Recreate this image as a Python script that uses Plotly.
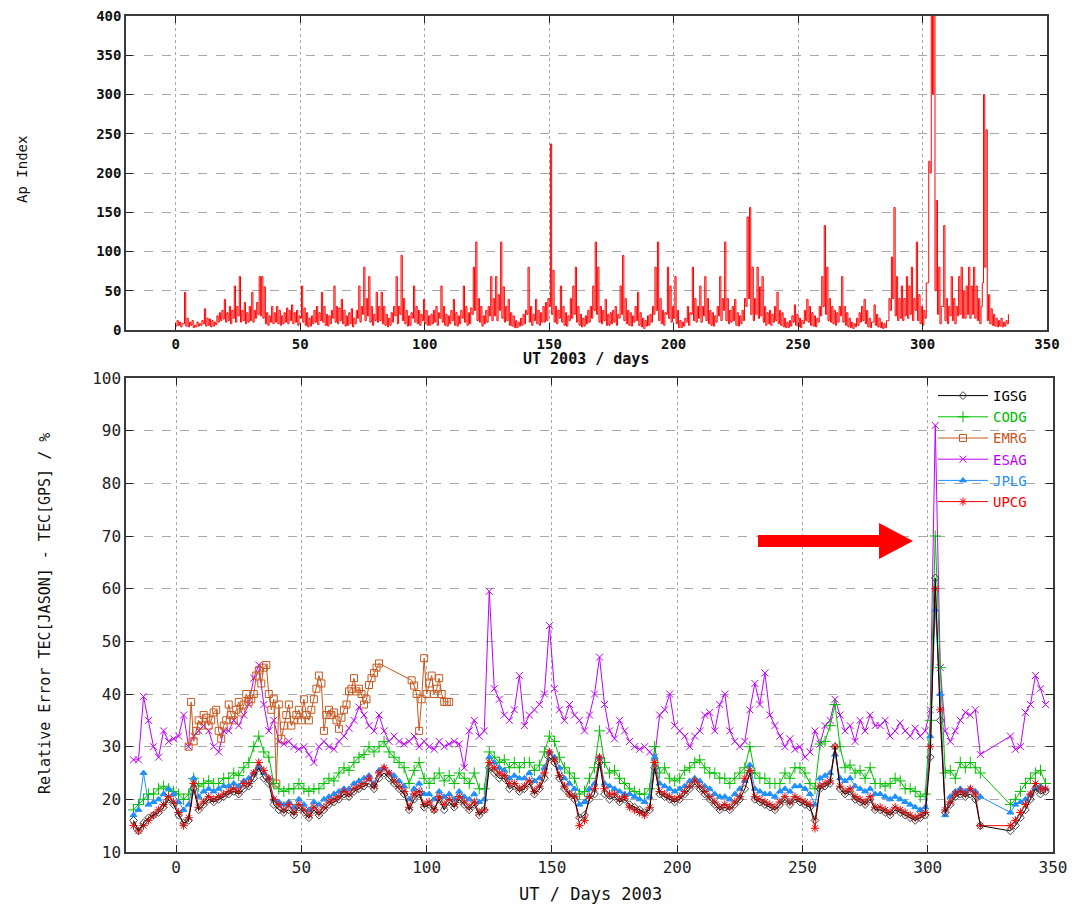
import numpy as np
import plotly.graph_objects as go

W, H = 1077, 905
OFF = 8                      # the page body keeps its default 8px margin
FW, FH = W - OFF, H - OFF

# ---- top panel: Ap index, daily max / min (days 0..334)
ap_hi = [
    12, 10, 8, 48, 15, 10, 12, 6, 10, 8,
    12, 27, 15, 14, 12, 10, 18, 22, 25, 39,
    22, 30, 25, 56, 30, 68, 25, 35, 22, 30,
    48, 25, 35, 68, 68, 55, 22, 18, 30, 22,
    30, 25, 18, 22, 28, 25, 32, 22, 25, 18,
    56, 28, 22, 15, 18, 25, 30, 22, 48, 30,
    20, 18, 25, 56, 30, 28, 39, 25, 18, 22,
    27, 15, 25, 56, 30, 80, 40, 68, 30, 20,
    48, 30, 48, 30, 20, 15, 22, 30, 68, 30,
    95, 40, 25, 18, 22, 56, 30, 25, 20, 39,
    25, 18, 20, 25, 30, 22, 56, 30, 20, 18,
    25, 39, 22, 18, 25, 56, 30, 22, 28, 80,
    112, 40, 30, 18, 25, 30, 68, 40, 68, 45,
    112, 55, 30, 39, 22, 18, 12, 10, 15, 20,
    25, 80, 30, 20, 39, 25, 22, 30, 35, 40,
    237, 76, 30, 25, 56, 30, 22, 18, 40, 56,
    80, 30, 20, 15, 18, 25, 30, 56, 112, 80,
    30, 25, 39, 20, 22, 25, 30, 20, 56, 95,
    40, 25, 22, 18, 30, 48, 22, 15, 12, 18,
    20, 30, 80, 112, 40, 25, 22, 80, 56, 30,
    68, 25, 12, 10, 15, 30, 22, 80, 40, 30,
    56, 30, 68, 40, 25, 22, 18, 30, 68, 40,
    112, 40, 25, 30, 39, 22, 18, 25, 40, 144,
    156, 80, 40, 80, 55, 68, 30, 22, 25, 20,
    30, 48, 25, 22, 15, 10, 12, 18, 32, 20,
    15, 12, 25, 39, 30, 22, 18, 15, 30, 68,
    133, 80, 40, 30, 25, 22, 30, 68, 30, 22,
    15, 10, 8, 15, 22, 30, 39, 25, 15, 10,
    32, 20, 15, 10, 8, 12, 40, 93, 156, 68,
    40, 56, 40, 68, 56, 80, 40, 112, 45, 30,
    25, 60, 215, 450, 450, 165, 80, 30, 133, 40,
    30, 68, 40, 30, 68, 80, 50, 56, 80, 56,
    80, 56, 40, 30, 300, 255, 45, 27, 20, 15,
    12, 15, 10, 12, 20,
]
ap_lo = [
    5, 6, 4, 8, 5, 4, 6, 3, 4, 5,
    6, 8, 5, 6, 4, 5, 7, 10, 12, 14,
    10, 12, 8, 15, 10, 18, 10, 12, 8, 10,
    12, 10, 15, 20, 18, 15, 8, 6, 10, 8,
    10, 8, 6, 8, 10, 8, 12, 8, 10, 6,
    15, 10, 6, 4, 5, 8, 10, 7, 12, 10,
    6, 5, 8, 15, 10, 8, 12, 8, 5, 6,
    8, 4, 8, 15, 10, 20, 12, 18, 10, 6,
    12, 10, 12, 8, 6, 4, 6, 10, 18, 8,
    20, 12, 8, 5, 6, 15, 10, 8, 6, 12,
    8, 6, 6, 8, 10, 6, 15, 10, 6, 5,
    8, 12, 6, 5, 8, 15, 10, 6, 8, 20,
    25, 12, 10, 5, 8, 10, 18, 12, 18, 12,
    25, 15, 10, 12, 6, 5, 3, 3, 5, 6,
    8, 20, 10, 6, 12, 8, 6, 10, 10, 12,
    30, 20, 10, 8, 15, 10, 6, 5, 12, 15,
    20, 10, 6, 4, 5, 8, 10, 15, 25, 20,
    10, 8, 12, 6, 6, 8, 10, 6, 15, 20,
    12, 8, 6, 5, 10, 12, 6, 4, 2, 5,
    6, 10, 20, 25, 12, 8, 6, 20, 15, 10,
    15, 8, 3, 3, 5, 10, 6, 20, 12, 10,
    15, 10, 18, 12, 8, 6, 5, 10, 18, 12,
    25, 12, 8, 10, 12, 6, 5, 8, 12, 30,
    40, 20, 12, 20, 15, 18, 10, 6, 8, 6,
    10, 12, 8, 6, 4, 3, 3, 5, 10, 6,
    4, 3, 8, 12, 10, 6, 5, 4, 10, 18,
    30, 20, 12, 10, 8, 6, 10, 18, 10, 6,
    4, 3, 2, 4, 6, 10, 12, 8, 4, 3,
    10, 6, 4, 3, 2, 3, 12, 25, 40, 18,
    12, 15, 12, 18, 15, 20, 12, 25, 12, 8,
    6, 15, 60, 200, 300, 50, 20, 8, 30, 12,
    8, 18, 12, 8, 18, 20, 15, 15, 20, 15,
    20, 15, 12, 8, 60, 80, 12, 8, 6, 5,
    4, 5, 4, 5, 8,
]

# ---- bottom panel: relative error (%), every second day, None = no data
days = list(range(-17, 348, 2))
NA = None

igsg = [
    16, 14, 15.5, 16.5, 17, 17.5, 18.5, 20, 19,
    17, 15.5, 16, 22, 18, 19, 20, 19.5, 20, 20.5,
    21, 21.5, 21, 22, 22.5, 24, 26, 24, 23, 19,
    18, 17.5, 18, 17, 18.5, 17.5, 16.5, 18, 17, 18,
    19, 19.5, 20, 21, 20.5, 21.5, 22, 22.5, 23, 22,
    24, 25, 24, 23, 22, 21, 18, 20, 21, 18.5,
    19, 18, 20, 18, 19.5, 18.5, 20, 19, 18, 19,
    17, 18, 26, 25, 24, 24, 22, 22.5, 21.5, 22,
    23, 21, 22, 24, 28, 27, 24, 22, 21, 20,
    16.5, 17, 20, 21, 27, 21, 20, 20.5, 19.5, 20,
    19, 18.5, 18, 17.5, 18, 26, 21, 20.5, 20, 19.5,
    20, 21, 22, 23, 22, 21, 20, 19, 18, 18.5,
    18, 19, 20, 22, 25, 20, 19.5, 19, 18.5, 18,
    19, 20, 19, 20, 19.5, 19, 18.5, 16, 22, 22.5,
    23, 30, 22, 21, 21.5, 20, 19.5, 19, 20, 18,
    18, 17.5, 17, 18, 17.5, 17, 16.5, 16, 16.5, 17,
    28, 62, 35, 17.5, 19, 20.5, 21, 20.5, 21, 20,
    15, NA, NA, NA, NA, NA, 14, 15, 16.5, 18,
    20, 22, 21, 21.5,
]
codg = [
    18, 19, 20, 21, 21, 22, 22.5, 22, 21.5,
    21, 20, 21, 24, 22.5, 23, 23.5, 23, 23, 24,
    24, 25, 24.5, 26, 27, 30, 32, 29, 28, 23,
    22, 21.5, 22, 22, 23, 22, 21.5, 22, 22, 23,
    24, 23.5, 25, 26, 25.5, 27, 28, 28.5, 30, 29,
    30, 31, 29, 28, 27, 26, 23, 25.5, 27, 24,
    23, 24, 25, 23.5, 24.5, 23, 25, 24, 23, 25,
    22, 22, 29, 28, 27, 27.5, 26, 27, 26, 27,
    27, 25.5, 26.5, 29, 32, 31, 28, 26, 25, 24,
    21, 21.5, 24, 26, 33, 27, 25, 25.5, 24, 23,
    22, 21.5, 21, 21, 22, 30, 25, 26, 24, 23.5,
    24, 25.5, 26, 27, 27.5, 26, 25, 25, 24, 24,
    23, 24, 25, 26, 30, 25, 24, 24, 23, 23,
    23, 25, 24, 26, 26, 25, 23, 22, 30.5, 31,
    34, 38, 30, 26, 26.5, 25, 25.5, 24, 26, 23,
    23, 22.5, 23, 24, 23.5, 22, 22, 21.5, 20.5, 21,
    35, 70, 45, 25, 25.5, 24, 27, 26, 27, 26,
    25, NA, NA, NA, NA, NA, 19, 20, 21.5, 23,
    24, 25, 25.5, 23,
]
esag = [
    27.5, 27.5, 39.5, 35, 30, 28, 33, 31, 31.5,
    32, 36, 30, 32, 33, 34, 33, 30, 29, 33,
    33, 35, 34, 36, 38, 43, 45.5, 38, 33, 35,
    31, 30.5, 31, 30, 29.5, 30, 28.5, 27, 30, 31,
    30, 29.5, 31, 32, 33.5, 35, 37.5, 36, 34, 33,
    36, 33, 31, 32, 31, 30.5, 31, 32, 30, 31,
    30, 29.5, 31, 30, 30.5, 31, 30.5, 26, 33, 35,
    32, 33, 59.5, 41, 39, 36, 35, 37, 43.5, 34,
    36, 37, 38, 40, 53, 41, 37, 35, 38, 36,
    35, 33, 36, 40, 47, 38, 33, 31.5, 35, 33,
    31, 30, 29.5, 30, 29, 28, 36, 37, 40, 34,
    33, 32, 30, 32, 33, 36, 36.5, 33, 38, 40,
    33, 31, 30, 31, 37, 42, 38, 44, 36, 34,
    32, 30, 31.5, 29.5, 30, 28, 29, 33, 30.5, 34,
    35, 39, 36, 33, 34, 31, 35, 33, 36, 34,
    34, 35, 32, 33, 34.5, 33, 32, 33.5, 32, 33,
    37, 91, 45, 33, 31, 33, 35, 36.5, 36, 37,
    28.5, NA, NA, NA, NA, NA, 32, 29.5, 30, 36.5,
    38, 43.5, 41, 38,
]
jplg = [
    17, 18, 25, 19, 19.5, 20, 21, 22, 21,
    19.5, 18, 19, 24, 20.5, 21.5, 22, 21.5, 22, 22.5,
    22.5, 23, 22.5, 23.5, 24, 25, 26, 25, 24, 20,
    19.5, 19, 19.5, 18.5, 20, 19, 18, 19.5, 19, 20,
    20.5, 21, 21.5, 22, 22, 23, 23.5, 24, 24.5, 23,
    25.5, 26, 25, 24.5, 23.5, 22.5, 20, 22, 23, 21,
    21, 20, 21.5, 20.5, 21, 20, 21.5, 20.5, 20, 21,
    19.5, 20, 28, 27, 26, 25.5, 24, 24.5, 24, 24,
    25, 23.5, 24, 26, 29, 28, 26, 24, 23, 22,
    19, 19.5, 22, 23, 28, 23, 22.5, 22, 21.5, 21,
    21, 20.5, 20, 19.5, 20.5, 28, 23, 22.5, 22, 21.5,
    22, 22.5, 23.5, 24, 23.5, 22.5, 22, 21, 20.5, 20.5,
    20, 21, 22, 23.5, 26.5, 22, 21.5, 21, 21, 20.5,
    21.5, 22, 21.5, 22.5, 22.5, 22, 21, 19, 24, 24.5,
    25, 28.5, 24, 23.5, 24, 22.5, 22, 21.5, 22, 21,
    21, 20.5, 20, 20.5, 20, 19.5, 19, 18.5, 18, 18.5,
    32, 56, 40, 17, 20.5, 21.5, 22, 21.5, 22, 21.5,
    20.5, NA, NA, NA, NA, NA, 17.5, 19, 19.5, 20,
    21, 22, 22.5, 22,
]
upcg = [
    15, 14, 15, 16, 17, 18, 19, 20.5, 19.5,
    17.5, 15, 16.5, 23, 18.5, 19.5, 20.5, 20, 20.5, 21,
    21.5, 22, 21.5, 23, 23, 25, 27, 25.5, 24, 20,
    19, 18, 19, 17.5, 19, 18, 17, 18.5, 17.5, 18.5,
    19.5, 20, 20.5, 21.5, 21, 22, 22.5, 23, 24, 22.5,
    25, 26, 25, 23.5, 22.5, 21.5, 18.5, 21, 21.5, 19,
    19.5, 18, 20.5, 19, 20, 19, 20.5, 19.5, 18.5, 19.5,
    17.5, 18, 27, 26, 25, 24.5, 23, 23, 22, 22.5,
    23.5, 21.5, 22.5, 25, 29, 27.5, 24.5, 22.5, 21, 20.5,
    15, 16, 20.5, 22, 28, 22, 21, 21, 20, 20.5,
    18.5, 18, 17.5, 17, 18.5, 27, 21.5, 21, 20.5, 20,
    20.5, 21.5, 22.5, 23.5, 22.5, 21.5, 20.5, 19.5, 18.5, 19,
    18.5, 19.5, 20.5, 24, 25.5, 20.5, 20, 19.5, 19, 18.5,
    19.5, 20.5, 19.5, 20.5, 20, 19.5, 19, 14.5, 22.5, 23,
    23.5, 30, 22.5, 21.5, 22, 20.5, 20, 19.5, 20.5, 18.5,
    18.5, 18, 17.5, 18.5, 18, 17.5, 17, 16.5, 17, 17.5,
    30, 60, 37, 18, 19.5, 21, 21.5, 21, 22, 21,
    15, NA, NA, NA, NA, NA, 15, 16, 17.5, 19,
    21, 23, 22, 22,
]

# EMRG only covers the first part of the year
emrg_days = list(range(5, 82)) + list(range(94, 110))
emrg = [
    30, 38.5, 31, 33, 35, 34, 36, 35.5, 34, 35,
    36.5, 37, 33, 31.5, 34, 35, 38, 36, 35, 37,
    38.5, 36.5, 38, 40, 38.5, 39, 40, 43.5, 44.5, 42,
    45, 45.5, 40, 37, 39, 23, 38, 31.5, 34, 36,
    38, 34, 35, 36, 37, 35, 39, 36, 35, 37,
    39, 41, 43.5, 42, 33, 36, 37, 36, 36.5, 35,
    33.4, 35.5, 37, 38, 40.5, 41, 43, 40.5, 41, 40,
    38, 39, 41.7, 43, 44, 45, 45.8,
    42.6, 41.6, 40, 33, 39, 46.8, 40, 42, 43.5, 40,
    41, 43, 40, 38.5, 38.5, 38.5,
]

# name, values, colour, marker, marker size, legend rank
series = [
    ("IGSG", igsg, "#000000", "diamond-open", 6, 1),
    ("CODG", codg, "#00c000", "cross-thin-open", 8, 2),
    ("EMRG", emrg, "#c8581e", "square-open", 7, 3),
    ("ESAG", esag, "#c000ff", "x-thin-open", 7, 4),
    ("JPLG", jplg, "#1e90ff", "triangle-up", 6, 5),
    ("UPCG", upcg, "#ff0000", "asterisk-open", 7, 6),
]
draw_order = ["ESAG", "EMRG", "CODG", "JPLG", "UPCG", "IGSG"]

mono = "DejaVu Sans Mono"


def px(x):
    return (x - OFF) / FW


def py(y):
    return 1 - (y - OFF) / FH


fig = go.Figure()

# Ap index as a step line, alternating daily minimum and maximum
n = min(len(ap_hi), len(ap_lo))
ap_d = np.arange(n)
ap_x = np.column_stack([ap_d, ap_d + 0.5]).ravel()
ap_y = np.column_stack([ap_lo[:n], ap_hi[:n]]).ravel()
fig.add_trace(go.Scatter(
    x=ap_x, y=ap_y, mode="lines", showlegend=False,
    line=dict(color="#ff0000", width=1.0, shape="hv"),
    xaxis="x", yaxis="y", hoverinfo="skip",
))

lookup = {s[0]: s for s in series}
for name in draw_order:
    nm, vals, col, sym, size, rank = lookup[name]
    xs = emrg_days if nm == "EMRG" else days
    k = min(len(xs), len(vals))
    mcol = "#444444" if nm == "IGSG" else col
    fig.add_trace(go.Scatter(
        x=xs[:k], y=vals[:k], mode="lines+markers",
        name=f"<span style='color:{col}'>{nm}</span>",
        legendrank=rank, connectgaps=True,
        line=dict(color=col, width=1),
        marker=dict(symbol=sym, size=size, color=mcol,
                    line=dict(color=mcol, width=1)),
        xaxis="x2", yaxis="y2",
    ))

axis_common = dict(
    showline=True, linecolor="#3a3a3a", linewidth=1.5, mirror="ticks",
    ticks="inside", ticklen=7, tickcolor="#222222", tickwidth=1.2,
    showgrid=True, gridcolor="#a8a8a8", gridwidth=1, zeroline=False,
    automargin=False, ticklabeloverflow="allow",
)

top_tick_font = dict(family=mono, size=14, color="#111111", weight="bold")
bot_tick_font = dict(family=mono, size=16, color="#222222")

fig.update_layout(
    width=FW, height=FH,
    margin=dict(l=0, r=0, t=0, b=0, pad=0),
    paper_bgcolor="white", plot_bgcolor="white",
    xaxis=dict(domain=[px(126), px(1047)], range=[-20, 350], tick0=0, dtick=50,
               griddash="dot", anchor="y", tickfont=top_tick_font, **axis_common),
    yaxis=dict(domain=[py(330), py(16)], range=[0, 400], tick0=0, dtick=50,
               griddash="dash", anchor="x", tickfont=top_tick_font, **axis_common),
    xaxis2=dict(domain=[px(126), px(1053)], range=[-20, 350], tick0=0, dtick=50,
                griddash="dot", anchor="y2", tickfont=bot_tick_font, **axis_common),
    yaxis2=dict(domain=[py(852), py(378)], range=[10, 100], tick0=10, dtick=10,
                griddash="dash", anchor="x2", tickfont=bot_tick_font, **axis_common),
    legend=dict(x=px(1032), xanchor="right", y=py(380), yanchor="top",
                bgcolor="rgba(0,0,0,0)", font=dict(family=mono, size=14),
                tracegroupgap=0, itemwidth=50),
    showlegend=True,
)


# axis titles
def label(text, x, y, size, angle=0, bold=False):
    fig.add_annotation(text=text, x=px(x), y=py(y), xref="paper", yref="paper",
                       xanchor="center", yanchor="middle", showarrow=False, textangle=angle,
                       font=dict(family=mono, size=size, color="#111",
                                 weight="bold" if bold else "normal"))


label("UT 2003 / days", 586, 359, 15, bold=True)
label("Ap Index", 22, 170, 14, angle=-90)
label("UT / Days 2003", 590, 894, 17)
label("Relative Error TEC[JASON] - TEC[GPS] / %", 45, 614, 15, angle=-90)

# red arrow pointing at the storm peak
pts = [(758, 535), (879, 535), (879, 523), (913, 541), (879, 559), (879, 547), (758, 547)]
path = "M " + " L ".join(f"{px(x):.4f},{py(y):.4f}" for x, y in pts) + " Z"
fig.add_shape(type="path", path=path, xref="paper", yref="paper",
              fillcolor="#ff0000", line=dict(width=0))

fig.write_html("out.html", config={"displayModeBar": False})
